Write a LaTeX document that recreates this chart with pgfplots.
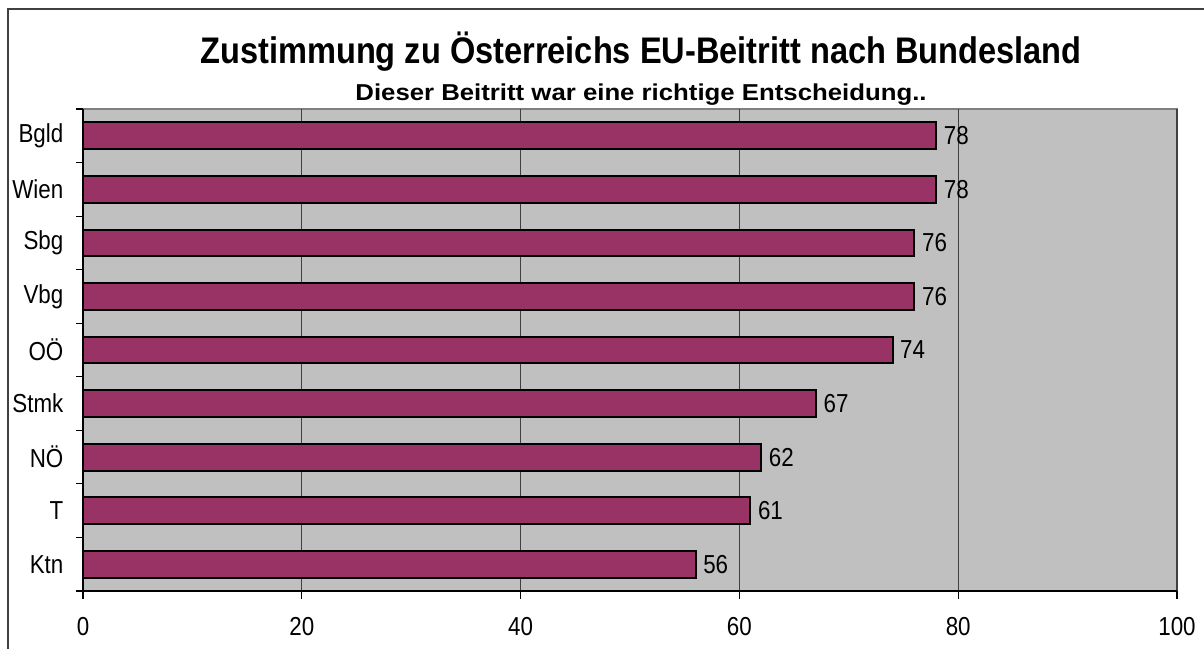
\documentclass[border=0pt]{standalone}
\usepackage{fontspec}
\setmainfont{Liberation Sans}
\newfontfamily\condfont[FakeStretch=0.86]{Liberation Sans}
\usepackage{pgfplots}
\pgfplotsset{compat=1.18}
\definecolor{barc}{HTML}{993366}
\definecolor{bgc}{HTML}{C0C0C0}
\begin{document}
\begin{tikzpicture}
\begin{axis}[
  at={(41.5pt,29pt)}, anchor=south west,
  scale only axis, width=547pt, height=241pt,
  xbar, bar width=0.5,
  xmin=0, xmax=100, ymin=-0.5, ymax=8.5,
  xtick={0,20,...,100},
  ytick={0,...,8},
  yticklabels={Ktn,T,NÖ,Stmk,OÖ,Vbg,Sbg,Wien,Bgld},
  minor ytick={-0.5,0.5,...,8.5},
  axis x line*=bottom, axis y line*=left,
  axis line style={-, black, line width=0.8pt},
  axis background/.style={fill=bgc, draw=black!50, line width=0.8pt},
  xmajorgrids, grid style={black!75, line width=0.55pt},
  tick align=outside,
  major tick length=3.8pt, minor tick length=3.5pt,
  major y tick style={draw=none},
  tick style={black, line width=0.6pt},
  /pgf/number format/assume math mode=true,
  ticklabel style={font=\condfont\fontsize{13}{15}\selectfont},
  yticklabel style={xshift=-2.5pt},
  xticklabel style={yshift=-6pt},
  nodes near coords, nodes near coords align=horizontal,
  nodes near coords style={font=\condfont\fontsize{13}{15}\selectfont, black},
]
\addplot[fill=barc, draw=black, line width=1pt] coordinates {
  (56,0) (61,1) (62,2) (67,3) (74,4) (76,5) (76,6) (78,7) (78,8)
};
\end{axis}
\begin{scope}[x=0.5pt,y=0.5pt]
\draw[line width=1pt, black!75] (8,0) -- (8,640) -- (1204,640);
\node[anchor=base, inner sep=0pt, font=\bfseries\fontsize{18.5}{20}\selectfont] at (641,585) {\scalebox{0.88}[1]{Zustimmung zu Österreichs EU-Beitritt nach Bundesland}};
\node[anchor=base, inner sep=0pt, font=\bfseries\fontsize{11.5}{13}\selectfont] at (641,548) {\scalebox{1.12}[1]{Dieser Beitritt war eine richtige Entscheidung..}};
\pgfresetboundingbox
\useasboundingbox (0,0) rectangle (1204,649);
\end{scope}
\end{tikzpicture}
\end{document}
